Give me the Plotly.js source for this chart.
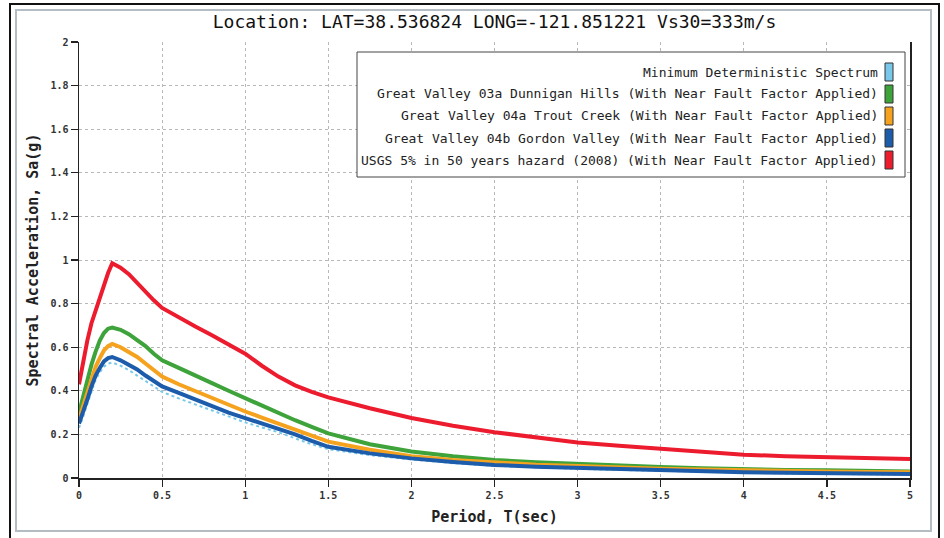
<!DOCTYPE html>
<html>
<head>
<meta charset="utf-8">
<script src="https://cdn.plot.ly/plotly-3.0.1.min.js"></script>
<style>html,body{margin:0;padding:0;background:#fff;}#chart{width:944px;height:538px;}</style>
</head>
<body>
<div id="chart"></div>
<script>
// Period T (sec)
var period = [0, 0.02, 0.05, 0.075, 0.1, 0.125, 0.15, 0.175, 0.2, 0.25, 0.3, 0.35, 0.4, 0.45, 0.5, 0.6, 0.7, 0.8, 0.9, 1.0, 1.1, 1.2, 1.3, 1.4, 1.5, 1.75, 2.0, 2.25, 2.5, 2.75, 3.0, 3.25, 3.5, 3.75, 4.0, 4.25, 4.5, 4.75, 5.0];
// Spectral acceleration Sa(g)
var minDeterministic = [0.23, 0.27, 0.34, 0.40, 0.45, 0.485, 0.51, 0.525, 0.53, 0.515, 0.495, 0.47, 0.445, 0.42, 0.395, 0.365, 0.337, 0.308, 0.28, 0.255, 0.232, 0.21, 0.182, 0.155, 0.132, 0.105, 0.085, 0.068, 0.056, 0.048, 0.042, 0.037, 0.033, 0.028, 0.023, 0.021, 0.019, 0.017, 0.015];
var gv03aDunnigan = [0.30, 0.36, 0.45, 0.52, 0.58, 0.63, 0.665, 0.685, 0.69, 0.68, 0.66, 0.635, 0.605, 0.57, 0.54, 0.505, 0.468, 0.435, 0.40, 0.365, 0.33, 0.30, 0.265, 0.235, 0.205, 0.155, 0.122, 0.10, 0.083, 0.072, 0.064, 0.057, 0.05, 0.045, 0.04, 0.037, 0.035, 0.032, 0.03];
var gv04aTrout = [0.27, 0.32, 0.40, 0.46, 0.51, 0.55, 0.585, 0.605, 0.615, 0.60, 0.58, 0.555, 0.525, 0.495, 0.465, 0.43, 0.398, 0.368, 0.338, 0.305, 0.277, 0.25, 0.222, 0.193, 0.167, 0.13, 0.10, 0.083, 0.07, 0.061, 0.055, 0.048, 0.043, 0.039, 0.035, 0.032, 0.03, 0.028, 0.026];
var gv04bGordon = [0.25, 0.29, 0.36, 0.42, 0.47, 0.505, 0.535, 0.55, 0.555, 0.54, 0.52, 0.498, 0.47, 0.445, 0.42, 0.39, 0.36, 0.33, 0.30, 0.275, 0.25, 0.228, 0.20, 0.17, 0.143, 0.113, 0.09, 0.073, 0.06, 0.052, 0.046, 0.04, 0.036, 0.03, 0.026, 0.024, 0.022, 0.02, 0.018];
var usgs2008 = [0.43, 0.52, 0.63, 0.71, 0.77, 0.83, 0.89, 0.94, 0.985, 0.965, 0.935, 0.895, 0.85, 0.815, 0.78, 0.735, 0.695, 0.655, 0.61, 0.57, 0.515, 0.465, 0.425, 0.395, 0.37, 0.32, 0.275, 0.24, 0.21, 0.185, 0.163, 0.148, 0.134, 0.12, 0.107, 0.10, 0.096, 0.09, 0.087];

var seriesNames = [
  "Minimum Deterministic Spectrum",
  "Great Valley 03a Dunnigan Hills (With Near Fault Factor Applied)",
  "Great Valley 04a Trout Creek (With Near Fault Factor Applied)",
  "Great Valley 04b Gordon Valley (With Near Fault Factor Applied)",
  "USGS 5% in 50 years hazard (2008) (With Near Fault Factor Applied)"
];
var seriesValues = [minDeterministic, gv03aDunnigan, gv04aTrout, gv04bGordon, usgs2008];
var seriesColors = ["#79c8ea", "#3ea33a", "#f5a21e", "#1c5cab", "#ec1c2e"];
var xTickVals = [0, 0.5, 1, 1.5, 2, 2.5, 3, 3.5, 4, 4.5, 5];
var xTickText = ["0", "0.5", "1", "1.5", "2", "2.5", "3", "3.5", "4", "4.5", "5"];
var yTickVals = [0, 0.2, 0.4, 0.6, 0.8, 1, 1.2, 1.4, 1.6, 1.8, 2];
var yTickText = ["0", "0.2", "0.4", "0.6", "0.8", "1", "1.2", "1.4", "1.6", "1.8", "2"];

var MONO = "DejaVu Sans Mono, Liberation Mono, monospace";
var L = 79, R = 910, T = 42, B = 478;
function px(x){ return (x - L) / (R - L); }
function py(y){ return (B - y) / (B - T); }

var traces = seriesValues.map(function(v, i){
  return {
    x: period, y: v, type: "scatter", mode: "lines", name: seriesNames[i],
    showlegend: false,
    line: { color: seriesColors[i], width: i === 0 ? 2 : 4, dash: i === 0 ? "dot" : "solid", shape: "linear" },
    hoverinfo: "skip"
  };
});

var annotations = [];
var shapes = [];
// frames
shapes.push({type:"rect", xref:"paper", yref:"paper", x0:px(10), x1:px(939), y0:py(560), y1:py(4), line:{color:"#111", width:2}, fillcolor:"rgba(0,0,0,0)", layer:"below"});
shapes.push({type:"rect", xref:"paper", yref:"paper", x0:px(16), x1:px(931), y0:py(531), y1:py(10), line:{color:"#b4bcc4", width:2}, fillcolor:"rgba(0,0,0,0)", layer:"below"});
// legend box
shapes.push({type:"rect", xref:"paper", yref:"paper", x0:px(357), x1:px(905), y0:py(177), y1:py(52), line:{color:"#444", width:1}, fillcolor:"#ffffff", layer:"above"});
var rowY = [72, 94, 116, 138, 160];
seriesNames.forEach(function(n, i){
  annotations.push({xref:"paper", yref:"paper", x:px(880), y:py(rowY[i]), xanchor:"right", yanchor:"middle", text:n, showarrow:false, font:{family:MONO, size:13, color:"#222"}});
  shapes.push({type:"rect", xref:"paper", yref:"paper", x0:px(885), x1:px(893), y0:py(rowY[i]+9), y1:py(rowY[i]-9), line:{color:"#333", width:1}, fillcolor:seriesColors[i], layer:"above"});
});

var layout = {
  width: 944, height: 538,
  margin: {l: L, r: 944 - R, t: T, b: 538 - B, pad: 0},
  paper_bgcolor: "#ffffff", plot_bgcolor: "#ffffff",
  title: {text: "Location: LAT=38.536824 LONG=-121.851221 Vs30=333m/s", x: 0.5, xref: "paper", xanchor: "center", y: 1 - 22/538, yanchor: "middle", font: {family: MONO, size: 18, color: "#111", weight: 500}},
  xaxis: {
    range: [0, 5], tickvals: xTickVals, ticktext: xTickText, ticks: "outside", ticklen: 7, tickcolor: "#222", tickwidth: 1.2,
    showline: true, linecolor: "#222", linewidth: 1.5, zeroline: false,
    showgrid: true, gridcolor: "#b8b8b8", griddash: "dot", gridwidth: 1,
    tickfont: {family: MONO, size: 10, color: "#333", weight: "bold"},
    title: {text: "Period, T(sec)", font: {family: MONO, size: 15, color: "#222", weight: "bold"}, standoff: 12}
  },
  yaxis: {
    range: [0, 2], tickvals: yTickVals, ticktext: yTickText, ticks: "outside", ticklen: 7, tickcolor: "#222", tickwidth: 1.2,
    showline: true, linecolor: "#222", linewidth: 1.5, mirror: true, zeroline: false,
    showgrid: true, gridcolor: "#b8b8b8", griddash: "dot", gridwidth: 1,
    tickfont: {family: MONO, size: 10, color: "#333", weight: "bold"},
    title: {text: "Spectral Acceleration, Sa(g)", font: {family: MONO, size: 15, color: "#222", weight: "bold"}, standoff: 8}
  },
  xaxis2: {range: [0, 5], overlaying: "x", anchor: "y", tickvals: xTickVals, ticks: "inside", ticklen: 4, tickcolor: "#222", showticklabels: false, showgrid: false, showline: false, zeroline: false},
  yaxis2: {range: [0, 2], overlaying: "y", anchor: "x", tickvals: yTickVals, ticks: "inside", ticklen: 4, tickcolor: "#222", showticklabels: false, showgrid: false, showline: false, zeroline: false},
  showlegend: false,
  annotations: annotations,
  shapes: shapes
};

Plotly.newPlot("chart", traces, layout, {staticPlot: true, displayModeBar: false});
</script>
</body>
</html>
